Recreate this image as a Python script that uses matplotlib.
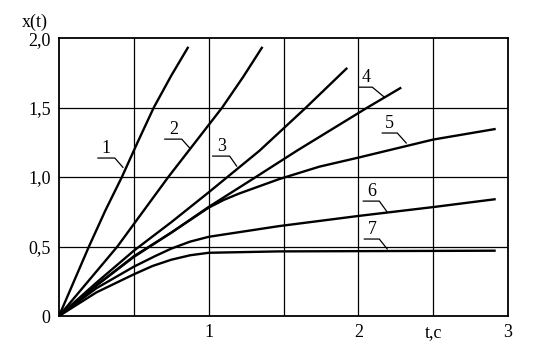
import matplotlib
matplotlib.use('Agg')
import matplotlib.pyplot as plt

plt.rcParams['font.family'] = ['Liberation Serif', 'DejaVu Serif']

# curves: t (s) and x(t)
t1 = [0, 0.1, 0.2, 0.31, 0.42, 0.525, 0.633, 0.75, 0.86]
x1 = [0, 0.25, 0.5, 0.76, 1.0, 1.25, 1.5, 1.73, 1.93]
t2 = [0, 0.39, 0.73, 0.91, 1.09, 1.23, 1.355]
x2 = [0, 0.5, 1.0, 1.25, 1.5, 1.72, 1.93]
t3 = [0, 0.25, 0.5, 0.75, 1.0, 1.17, 1.34, 1.5, 1.65, 1.92]
x3 = [0, 0.24, 0.47, 0.675, 0.89, 1.04, 1.19, 1.35, 1.5, 1.78]
t4 = [0, 0.25, 0.5, 0.75, 1.0, 1.3, 1.59, 2.06, 2.28]
x4 = [0, 0.22, 0.43, 0.6, 0.785, 0.99, 1.19, 1.5, 1.64]
t5 = [0, 0.25, 0.5, 0.75, 1.0, 1.1, 1.2, 1.47, 1.74, 2.0, 2.5, 2.91]
x5 = [0, 0.22, 0.425, 0.6, 0.78, 0.835, 0.88, 0.985, 1.075, 1.14, 1.27, 1.345]
t6 = [0, 0.25, 0.5, 0.64, 0.75, 0.875, 1.0, 1.47, 2.0, 2.5, 2.91]
x6 = [0, 0.2, 0.355, 0.43, 0.485, 0.535, 0.57, 0.647, 0.72, 0.784, 0.84]
t7 = [0, 0.25, 0.5, 0.625, 0.75, 0.875, 1.0, 1.47, 2.91]
x7 = [0, 0.17, 0.3, 0.36, 0.405, 0.437, 0.455, 0.465, 0.47]

curve_names = ['1', '2', '3', '4', '5', '6', '7']
# label leader: underline start t, underline end t, underline level, tip t, tip x
leaders = [
    (0.26, 0.373, 1.137, 0.427, 1.07),
    (0.707, 0.82, 1.273, 0.873, 1.209),
    (1.027, 1.14, 1.151, 1.187, 1.079),
    (2.007, 2.093, 1.647, 2.173, 1.576),
    (2.16, 2.26, 1.317, 2.32, 1.245),
    (2.033, 2.14, 0.827, 2.193, 0.748),
    (2.04, 2.14, 0.554, 2.193, 0.482),
]

xtick_pos = [1, 2, 2.5, 3]
xtick_lab = ['1', '2', 't,c', '3']
ytick_pos = [0, 0.5, 1.0, 1.5, 2.0]
ytick_lab = ['0', '0,5', '1,0', '1,5', '2,0']

fig = plt.figure(figsize=(5.54, 3.53), dpi=100)
ax = fig.add_axes([0.1065, 0.1048, 0.8105, 0.7872])
ax.set_xlim(0, 3)
ax.set_ylim(0, 2)

# grid
for g in [0.5, 1.0, 1.5, 2.0, 2.5]:
    ax.axvline(g, color='black', lw=0.9, zorder=1)
for g in [0.5, 1.0, 1.5]:
    ax.axhline(g, color='black', lw=0.9, zorder=1)

for tt, xx in [(t1, x1), (t2, x2), (t3, x3), (t4, x4), (t5, x5), (t6, x6), (t7, x7)]:
    ax.plot(tt, xx, color='black', lw=1.7, solid_joinstyle='round', zorder=3)

for name, (a, b, y, tx, ty) in zip(curve_names, leaders):
    ax.plot([a, b, tx], [y, y, ty], color='black', lw=0.9, zorder=3)
    ax.text((a + b) / 2, y + 0.01, name, ha='center', va='bottom', fontsize=13, zorder=4)

for s in ax.spines.values():
    s.set_linewidth(1.3)

ax.set_xticks(xtick_pos)
ax.set_xticklabels(xtick_lab, fontsize=13)
ax.set_yticks(ytick_pos)
ax.set_yticklabels(ytick_lab, fontsize=13)
ax.tick_params(length=0, pad=6)
fig.text(35 / 554, 1 - 22 / 353, 'x(t)', ha='center', va='center', fontsize=13)

fig.savefig('out.png', dpi=100)
